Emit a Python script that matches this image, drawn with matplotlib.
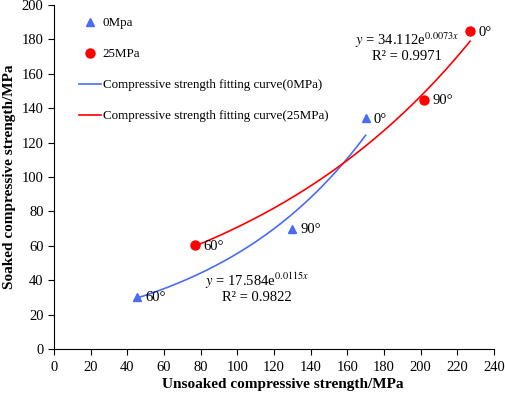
import numpy as np
import matplotlib
matplotlib.use("Agg")
import matplotlib.pyplot as plt
from matplotlib.lines import Line2D

# data
angles = ["60°", "90°", "0°"]
unsoaked_0 = [45.5, 130, 170]
soaked_0 = [30.5, 70, 134]
unsoaked_25 = [77, 202, 227]
soaked_25 = [60.5, 145, 185]

# exponential fits y = a*exp(b*x)
fit_0 = (17.584, 0.0115)
fit_25 = (34.112, 0.0073)

blue = "#4a6cf5"
red = "#ff0000"

plt.rcParams["font.family"] = ["Liberation Serif", "DejaVu Serif"]
plt.rcParams["mathtext.fontset"] = "stix"

fig = plt.figure(figsize=(5.05, 3.95), dpi=100)
ax = fig.add_axes([0.107, 0.1165, 0.871, 0.871])

# fitting curves
x0 = np.linspace(min(unsoaked_0), max(unsoaked_0), 200)
x25 = np.linspace(min(unsoaked_25), max(unsoaked_25), 200)
ax.plot(x0, fit_0[0] * np.exp(fit_0[1] * x0), color=blue, lw=1.2, zorder=2)
ax.plot(x25, fit_25[0] * np.exp(fit_25[1] * x25), color=red, lw=1.2, zorder=2)

# points
ax.plot(unsoaked_0, soaked_0, ls="none", marker="^", ms=5.8, color=blue, zorder=3)
ax.plot(unsoaked_25, soaked_25, ls="none", marker="o", ms=6.5, color=red, zorder=3)

for x, y, t in zip(unsoaked_0, soaked_0, angles):
    ax.annotate(t, (x, y), xytext=(6, -1), textcoords="offset points",
                ha="left", va="center", fontsize=10.5)
for x, y, t in zip(unsoaked_25, soaked_25, angles):
    ax.annotate(t, (x, y), xytext=(6, -1), textcoords="offset points",
                ha="left", va="center", fontsize=10.5)

# equations
ax.text(192.5, 175.5, "$y$ = 34.112e$^{0.0073x}$\nR² = 0.9971", ha="center",
        va="center", multialignment="center", linespacing=1.0, fontsize=10.5)
ax.text(110.5, 36, "$y$ = 17.584e$^{0.0115x}$\nR² = 0.9822", ha="center",
        va="center", multialignment="center", linespacing=1.0, fontsize=10.5)

# legend
handles = [
    Line2D([], [], ls="none", marker="^", ms=5.5, color=blue),
    Line2D([], [], ls="none", marker="o", ms=6.5, color=red),
    Line2D([], [], color=blue, lw=1.2),
    Line2D([], [], color=red, lw=1.2),
]
labels = ["0Mpa", "25MPa",
          "Compressive strength fitting curve(0MPa)",
          "Compressive strength fitting curve(25MPa)"]
ax.legend(handles, labels, loc="upper left", bbox_to_anchor=(0.044, 0.98),
          frameon=False, fontsize=9.4, labelspacing=1.45, handlelength=1.7,
          handletextpad=0.15, borderaxespad=0)

ax.set_xlim(0, 240)
ax.set_ylim(0, 200)
ax.set_xticks(np.arange(0, 241, 20))
ax.set_yticks(np.arange(0, 201, 20))
ax.spines["top"].set_visible(False)
ax.spines["right"].set_visible(False)
ax.tick_params(direction="out", length=4, labelsize=10.5)
ax.tick_params(axis="x", pad=5)
ax.set_xlabel("Unsoaked compressive strength/MPa", fontsize=11, fontweight="bold")
ax.set_ylabel("Soaked compressive strength/MPa", fontsize=11, fontweight="bold", labelpad=4)
ax.xaxis.set_label_coords(0.52, -0.085)

plt.savefig("out.png", dpi=100)
